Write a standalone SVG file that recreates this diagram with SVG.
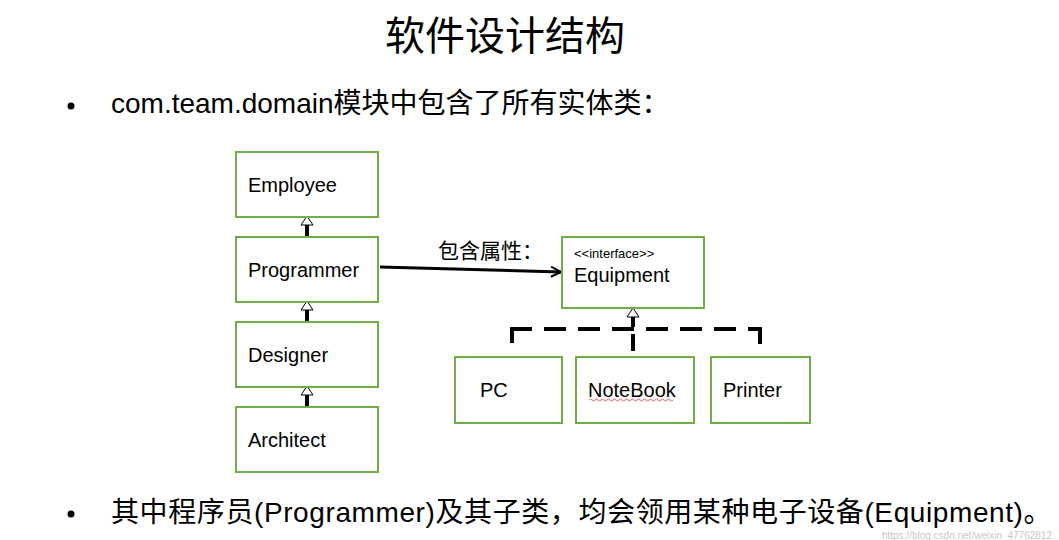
<svg xmlns="http://www.w3.org/2000/svg" width="1059" height="540" viewBox="0 0 1059 540">
<style>
.box{fill:#fff;stroke:#70AD47;stroke-width:2}
.lbl{font-family:"Liberation Sans",Arial,sans-serif;font-size:20px;fill:#000}
.cjk{font-family:"Liberation Sans","Noto Sans CJK SC",sans-serif;fill:#000}
.inh{stroke:#000;stroke-width:4;fill:none}
.dash{stroke:#000;stroke-width:4;fill:none;stroke-dasharray:22 12}
.seg{stroke:#000;stroke-width:4;fill:none}
.tri{fill:#fff;stroke:#000;stroke-width:1}
</style>
<defs>
<marker id="open" viewBox="0 0 12 12" refX="11" refY="6" markerWidth="12" markerHeight="12" markerUnits="userSpaceOnUse" orient="auto">
<path d="M1,1 L11,6 L1,11" fill="none" stroke="#000" stroke-width="2"/>
</marker>
</defs>
<rect width="1059" height="540" fill="#fff"/>
<text x="505" y="50" text-anchor="middle" class="cjk" font-size="40">软件设计结构</text>
<g id="bullet1">
<circle cx="71" cy="106" r="3.5" fill="#000"/>
<text x="111" y="113" class="cjk" font-size="28">com.team.domain模块中包含了所有实体类：</text>
</g>
<g id="connectors">
<line x1="307" y1="237" x2="307" y2="224" class="inh"/>
<path d="M301,225 L313,225 L307,216 Z" class="tri"/>
<line x1="307" y1="322" x2="307" y2="309" class="inh"/>
<path d="M301,310 L313,310 L307,301 Z" class="tri"/>
<line x1="307" y1="407" x2="307" y2="394" class="inh"/>
<path d="M301,395 L313,395 L307,386 Z" class="tri"/>
<line x1="380" y1="267" x2="561" y2="272" stroke="#000" stroke-width="3" marker-end="url(#open)"/>
<text x="438" y="258" class="cjk" font-size="21" fill="#222">包含属性：</text>
<line x1="510" y1="329" x2="762" y2="329" class="dash"/>
<line x1="512" y1="327" x2="512" y2="343" class="seg"/>
<line x1="760" y1="327" x2="760" y2="344" class="seg"/>
<line x1="633" y1="351" x2="633" y2="334" class="seg"/>
<line x1="633" y1="327" x2="633" y2="316" class="seg"/>
<path d="M627,317 L639,317 L633,308 Z" class="tri"/>
</g>
<g id="employee"><rect x="236" y="152" width="142" height="65" class="box"/><text x="248" y="192" class="lbl">Employee</text></g>
<g id="programmer"><rect x="236" y="237" width="142" height="65" class="box"/><text x="248" y="277" class="lbl">Programmer</text></g>
<g id="designer"><rect x="236" y="322" width="142" height="65" class="box"/><text x="248" y="362" class="lbl">Designer</text></g>
<g id="architect"><rect x="236" y="407" width="142" height="65" class="box"/><text x="248" y="447" class="lbl">Architect</text></g>
<g id="equipment"><rect x="562" y="237" width="142" height="71" class="box"/>
<text x="574" y="258" class="lbl" style="font-size:13px">&lt;&lt;interface&gt;&gt;</text>
<text x="574" y="282" class="lbl">Equipment</text></g>
<g id="pc"><rect x="455" y="357" width="107" height="66" class="box"/><text x="480" y="397" class="lbl">PC</text></g>
<g id="notebook"><rect x="576" y="357" width="118" height="66" class="box"/><text x="588" y="397" class="lbl">NoteBook</text>
<path d="M589,400 q1.5,-2 3,0 t3,0 t3,0 t3,0 t3,0 t3,0 t3,0 t3,0 t3,0 t3,0 t3,0 t3,0 t3,0 t3,0 t3,0 t3,0 t3,0 t3,0 t3,0 t3,0 t3,0 t3,0 t3,0 t3,0 t3,0 t3,0 t3,0 t3,0" fill="none" stroke="#e33" stroke-width="0.8"/></g>
<g id="printer"><rect x="711" y="357" width="99" height="66" class="box"/><text x="723" y="397" class="lbl">Printer</text></g>
<g id="bullet2">
<circle cx="71" cy="514" r="3.5" fill="#000"/>
<text x="111" y="522" class="cjk" font-size="28" letter-spacing="0.6">其中程序员(Programmer)及其子类，均会领用某种电子设备(Equipment)。</text>
</g>
<text x="1052" y="538.5" text-anchor="end" font-family="Liberation Sans,sans-serif" font-size="10" fill="#c8c8c8">https://blog.csdn.net/weixin_47762812</text>
</svg>
